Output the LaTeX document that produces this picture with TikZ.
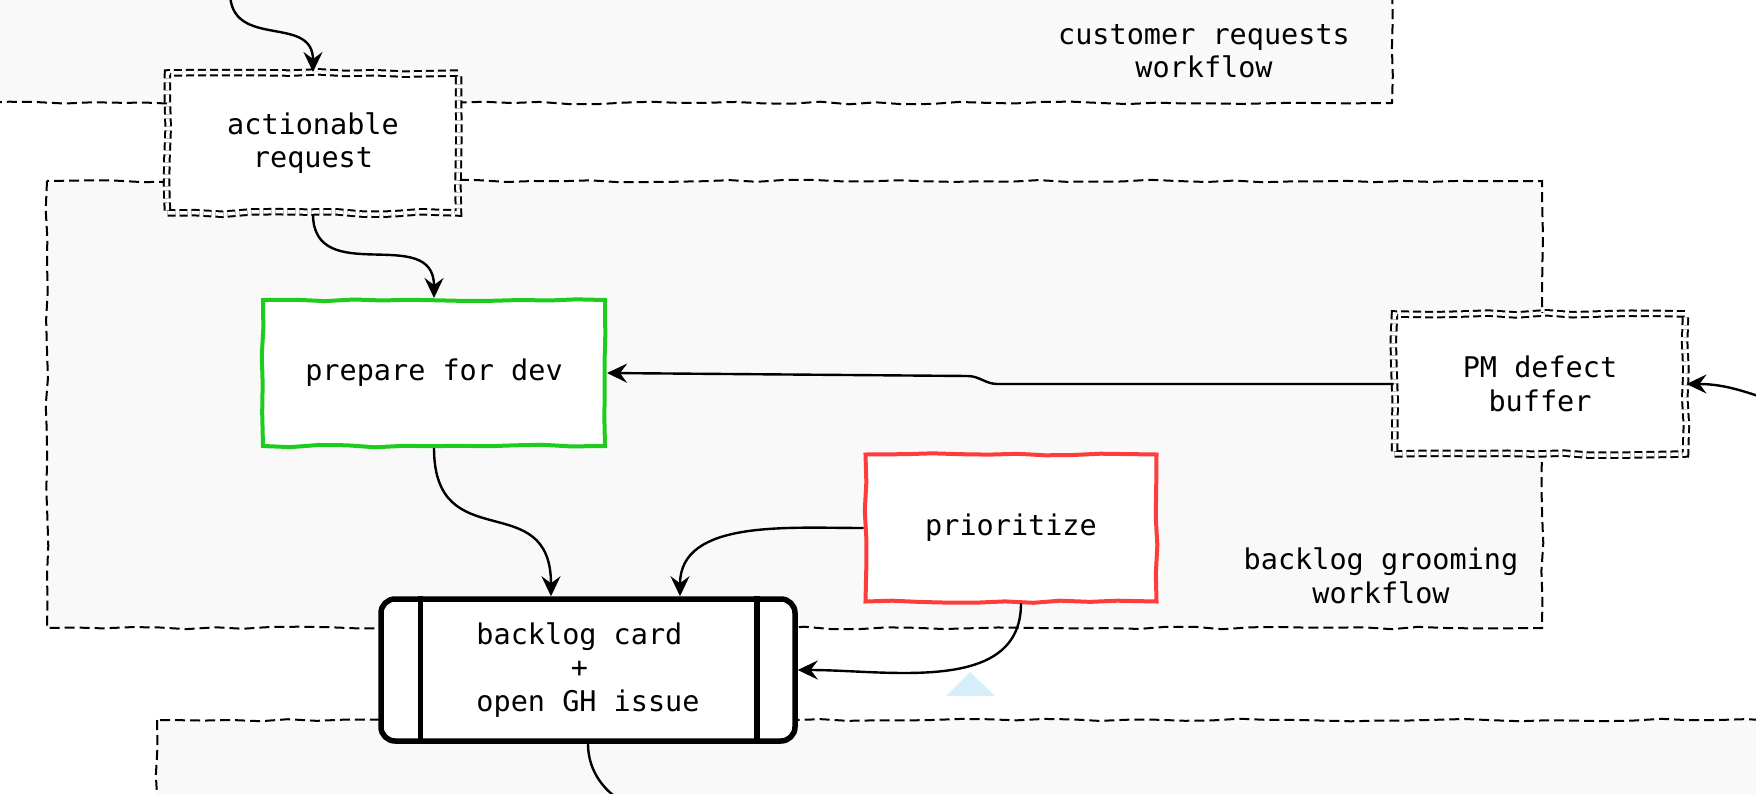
\documentclass[tikz,border=0pt]{standalone}
\usepackage{fontspec}
\newfontfamily\sketchmono{DejaVu Sans Mono}
\usetikzlibrary{arrows.meta,positioning,calc,decorations.pathmorphing}

\definecolor{lanegray}{HTML}{F9F9F9}
\definecolor{prepgreen}{HTML}{1ECC1E}
\definecolor{priored}{HTML}{FF3C3C}
\definecolor{hintblue}{HTML}{D5EEFA}

\begin{document}
\begin{tikzpicture}[x=1pt, y=-1pt,
  every node/.style={font=\sketchmono\fontsize{28.5}{33.6}\selectfont, align=center, inner sep=0pt},
  wobble/.style={decorate, decoration={random steps, segment length=28pt, amplitude=1.3pt}},
  lane/.style={fill=lanegray, draw, line width=2pt, dash pattern=on 10pt off 5pt, wobble},
  buffer/.style={draw, fill=white, line width=2pt, double, double distance=3.5pt, dash pattern=on 8pt off 4pt, minimum width=291pt, minimum height=140pt, wobble},
  stepbox/.style={draw=#1, fill=white, line width=4pt, wobble},
  card/.style={draw, fill=white, line width=5.5pt, rounded corners=14pt, minimum width=414pt, minimum height=142pt},
  flow/.style={line width=2.4pt, -{Stealth[length=20pt, width=19pt, inset=7pt]}}
]
  \pgfmathsetseed{7}
  \useasboundingbox (0,0) rectangle (1756,794);
  \clip (0,0) rectangle (1756,794);

  % swim lanes
  \path[lane] (-20,-20) rectangle (1392,103);
  \path[lane] (47,181) rectangle (1542,628);
  \path[lane] (157,720) rectangle (1800,830);
  \node (custlbl) at (1204,51) {customer requests\\workflow};
  \node (groomlbl) at (1381,576) {backlog grooming\\workflow};

  % steps
  \node[buffer] (act) at (313,143) {actionable\\request};
  \node[buffer] (pm) at (1540,384) {PM defect\\buffer};
  \node[stepbox=prepgreen, minimum width=342pt, minimum height=146pt] (prep) at (434,373) {prepare for dev};
  \node[stepbox=priored, minimum width=291pt, minimum height=147pt] (prio) at (1011,528) {prioritize};
  \node[card] (card) at (588,670) {backlog card\hphantom{x}\\+\hphantom{x}\\open GH issue};
  \draw[line width=5.5pt] ([xshift=42pt]card.north west) -- ([xshift=42pt]card.south west);
  \draw[line width=5.5pt] ([xshift=-41pt]card.north east) -- ([xshift=-41pt]card.south east);

  % small marker
  \fill[hintblue] (946,696) -- (970,672) -- (995,696) -- cycle;

  % loose ends
  \coordinate (src) at (230,-8);
  \coordinate (ext) at (1775,402);
  \coordinate (sink) at (662,812);

  % connectors
  \draw[flow] (src) to[out=-90, in=90, looseness=1.3] (act.north);
  \draw[flow] (act.south) to[out=-90, in=90, looseness=1.3] (prep.north);
  \draw[flow] (pm.west) -- ++(-396,0) to[out=180, in=0] ++(-30,-8) -- (prep.east);
  \draw[flow] (prep.south) to[out=-90, in=90, looseness=1.5] ([xshift=-37pt]card.north);
  \draw[flow] (prio.west) to[out=180, in=90] ([xshift=92pt]card.north);
  \draw[flow] ([xshift=10pt]prio.south) to[out=-90, in=0] (card.east);
  \draw[flow] (ext) to[out=160, in=0] (pm.east);
  \draw[line width=2.4pt] (card.south) to[out=-90, in=180] (sink);
\end{tikzpicture}
\end{document}
